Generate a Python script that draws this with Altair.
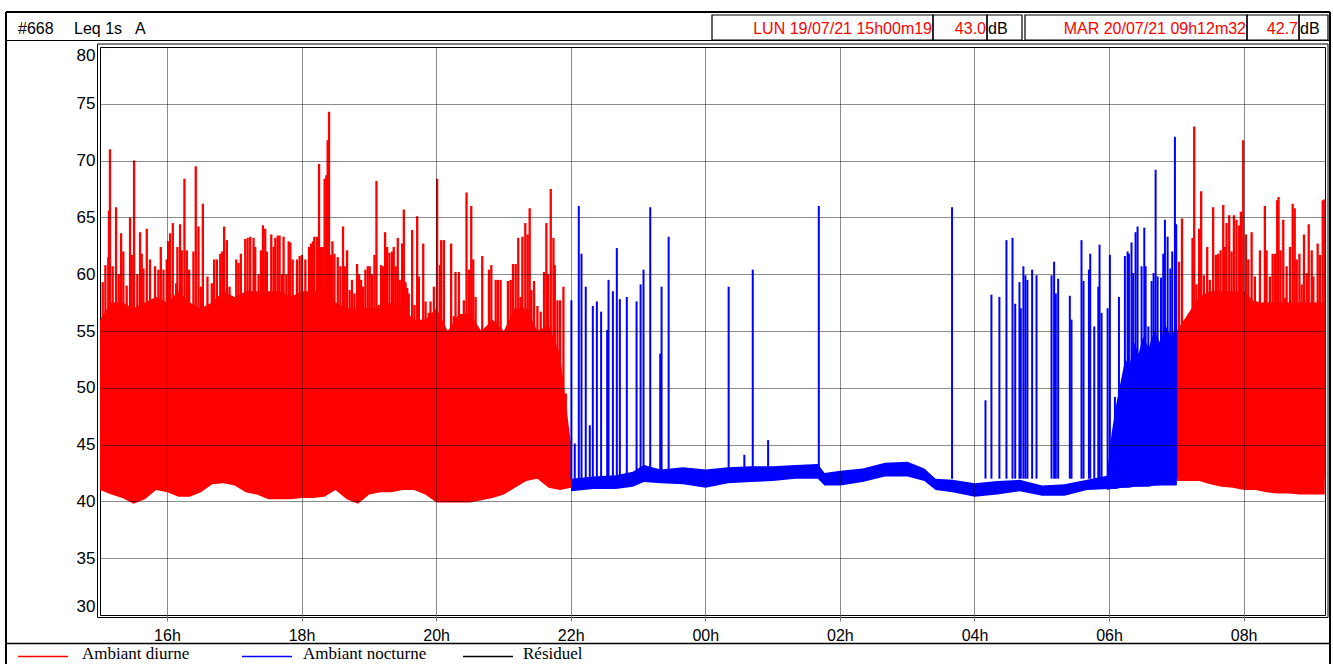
import altair as alt
import pandas as pd

# ---------------- data (minutes since LUN 19/07/21 15h00m19, dB(A)) ----------------
# Ambiant diurne, 15h-22h : dense envelope (lower edge / top of the solid part)
RED1_T = [0, 10, 20, 30, 40, 50, 60, 70, 80, 90, 100, 110, 120, 130, 140, 150, 160, 170, 180, 190,
          200, 210, 220, 230, 240, 250, 260, 270, 280, 290, 300, 310, 320, 330, 340, 350, 360, 370,
          380, 390, 400, 410, 420]
RED1_LO = [41.0, 40.6, 40.3, 39.8, 40.2, 41.0, 40.8, 40.4, 40.4, 40.8, 41.5, 41.6, 41.4, 40.8, 40.6,
           40.2, 40.2, 40.2, 40.3, 40.3, 40.4, 41.0, 40.2, 39.8, 40.6, 40.8, 40.8, 41.0, 41.0, 40.6,
           39.9, 39.9, 39.9, 39.9, 40.1, 40.3, 40.6, 41.2, 41.8, 42.0, 41.2, 41.0, 41.2]
RED1_HI = [56, 57.5, 57.5, 57, 57.5, 58, 57.5, 58.5, 57.5, 57, 57.5, 58.5, 58, 58.5, 58.5, 58.5, 58.5,
           58, 58.5, 58.5, 58.5, 57.5, 57, 57, 57, 57, 57.5, 57, 56, 56, 57, 55, 56.5, 56.5, 55, 56,
           55, 57, 57, 55, 55.5, 53, 45]

# Ambiant diurne, 07h-09h12
RED2_T = [960, 970, 980, 990, 1000, 1010, 1020, 1030, 1040, 1050, 1060, 1070, 1080, 1092]
RED2_LO = [41.8, 41.8, 41.8, 41.5, 41.3, 41.2, 41.0, 41.0, 40.8, 40.7, 40.7, 40.6, 40.6, 40.6]
RED2_HI = [55, 56.5, 58, 58.5, 58.5, 58.5, 58.5, 57.5, 57.5, 57.5, 57.5, 57.5, 57.5, 57.5]

# Ambiant nocturne, 22h-07h : background band
BLUE_T = [420, 440, 460, 475, 485, 500, 520, 540, 560, 580, 600, 620, 640, 646, 660, 680, 700, 720,
          735, 745, 760, 780, 800, 820, 840, 860, 880, 900, 920, 940, 960]
BLUE_LO = [40.9, 41.1, 41.1, 41.3, 41.7, 41.6, 41.5, 41.2, 41.6, 41.7, 41.8, 42.0, 42.0, 41.4, 41.4,
           41.7, 42.2, 42.2, 41.8, 41.0, 40.8, 40.4, 40.6, 40.9, 40.5, 40.5, 41.0, 41.1, 41.3, 41.4, 41.5]
BLUE_HI = [42.0, 42.2, 42.3, 42.6, 43.2, 42.8, 43.0, 42.8, 43.0, 43.1, 43.1, 43.2, 43.3, 42.5, 42.7,
           42.9, 43.4, 43.5, 42.9, 42.0, 41.9, 41.6, 41.8, 41.9, 41.4, 41.5, 41.9, 42.3, 42.6, 42.8, 42.8]
# dense early-morning part of the night
BLUED_T = [898, 902, 906, 910, 914, 918, 922, 926, 930, 935, 940, 945, 950, 955, 960]
BLUED_LO = [41.0, 41.1, 41.1, 41.2, 41.2, 41.2, 41.3, 41.3, 41.3, 41.3, 41.4, 41.4, 41.4, 41.4, 41.4]
BLUED_HI = [42.5, 46.0, 48.5, 50.5, 52.5, 52.0, 54.0, 53.0, 54.5, 53.5, 55.0, 54.0, 55.5, 54.5, 55.5]

# peaks
RED_PK_T = [2.4, 4.8, 7.4, 8.0, 8.9, 11.3, 14.3, 16.7, 18.8, 20.8, 23.8, 26.8, 28.3, 30.4, 33.3, 35.7,
            37.2, 38.7, 41.7, 44.6, 49.1, 52.1, 54.2, 56.6, 59.5, 61.0, 62.5, 64.9, 67.9, 69.0, 71.4,
            72.9, 75.3, 77.4, 79.5, 83.3, 85.4, 87.8, 89.9, 91.7, 95.8, 99.7, 101.8, 104.2, 107.2, 109.0,
            110.7, 113.1, 115.5, 117.6, 121.5, 123.5, 125.6, 129.5, 131.6, 133.9, 136.9, 138.4, 141.4,
            143.5, 145.3, 147.3, 148.8, 152.7, 154.8, 156.3, 158.4, 160.1, 162.2, 163.7, 166.1, 168.2,
            169.7, 171.8, 175.6, 178.0, 180.1, 183.1, 186.4, 188.1, 189.9, 191.1, 193.5, 195.3, 197.1,
            198.6, 200.3, 201.8, 203.0, 204.2, 206.0, 207.2, 209.0, 212.0, 214.3, 216.7, 218.2, 220.3,
            222.6, 224.7, 226.8, 229.2, 231.0, 232.8, 234.6, 236.6, 238.7, 240.5, 242.6, 244.7, 246.5,
            248.5, 250.6, 252.4, 254.2, 256.0, 258.1, 260.5, 261.9, 263.7, 265.5, 267.3, 269.4, 270.9,
            272.4, 273.9, 275.3, 278.3, 280.4, 282.8, 284.3, 288.2, 290.3, 293.2, 294.7, 297.7, 300.6,
            303.0, 304.2, 306.6, 313.1, 315.5, 317.0, 320.0, 324.4, 326.8, 328.9, 331.0, 332.8, 334.9,
            340.8, 346.8, 348.9, 352.8, 354.8, 357.2, 363.7, 366.1, 368.2, 370.6, 372.9, 375.0, 376.6,
            379.2, 381.3, 383.1, 384.6, 387.0, 390.0, 392.9, 395.9, 398.0, 399.5, 401.9, 404.3, 405.5,
            407.9, 410.2, 413.2, 415.3, 416.8,
            962.0, 964.7, 966.3, 968.7, 971.1, 974.1, 975.6, 977.6, 980.0, 981.8, 984.2, 987.2, 989.5,
            992.5, 994.9, 997.0, 999.1, 1001.5, 1003.0, 1004.4, 1006.8, 1008.9, 1011.0, 1013.3, 1015.7,
            1017.2, 1019.3, 1021.7, 1023.8, 1026.8, 1029.7, 1031.8, 1034.2, 1038.6, 1040.1, 1043.1,
            1045.5, 1047.6, 1049.6, 1050.8, 1052.6, 1055.0, 1056.5, 1058.0, 1061.0, 1063.4, 1065.2,
            1067.0, 1069.4, 1071.4, 1073.5, 1075.9, 1077.7, 1080.4, 1081.8, 1085.7, 1087.8, 1090.2, 1092.0]
RED_PK_DB = [59.3, 60.8, 61.5, 65.6, 71.0, 60.7, 65.9, 60.0, 63.6, 62.0, 59.0, 65.0, 61.7, 70.0, 60.0,
             63.7, 61.8, 60.5, 64.0, 61.3, 60.7, 60.4, 62.4, 60.4, 61.3, 62.9, 63.6, 64.5, 59.2, 62.4,
             64.4, 62.1, 68.4, 62.1, 60.4, 62.0, 69.5, 64.2, 58.9, 66.2, 59.8, 59.2, 61.3, 61.3, 61.8,
             62.0, 64.2, 63.0, 58.9, 58.0, 61.3, 61.0, 61.8, 63.1, 63.2, 63.3, 63.2, 62.4, 60.0, 62.1,
             64.3, 64.0, 62.0, 63.5, 62.4, 63.2, 63.4, 63.4, 60.0, 63.3, 60.0, 62.9, 62.8, 61.3, 61.3,
             61.6, 61.7, 61.3, 62.4, 62.7, 62.9, 63.3, 63.3, 69.7, 62.4, 62.4, 68.4, 68.7, 71.8, 74.3,
             61.7, 62.9, 61.8, 61.5, 60.7, 64.2, 60.7, 62.1, 58.6, 59.5, 58.3, 60.9, 60.0, 59.5, 58.9,
             60.4, 60.7, 60.7, 60.0, 61.7, 68.2, 57.3, 60.8, 60.7, 63.7, 62.4, 61.9, 62.0, 62.4, 60.7,
             63.2, 59.5, 62.7, 65.7, 59.3, 58.8, 58.3, 63.9, 57.3, 65.1, 59.8, 62.7, 57.6, 56.6, 57.6,
             58.9, 68.4, 60.8, 63.0, 63.0, 62.7, 56.3, 60.2, 60.2, 57.7, 67.2, 60.4, 66.0, 61.3, 58.0,
             61.6, 60.4, 60.8, 59.5, 59.5, 59.5, 59.4, 59.5, 60.9, 60.9, 63.2, 58.0, 63.3, 64.5, 63.5,
             65.8, 58.6, 59.4, 57.2, 56.7, 60.2, 64.5, 60.0, 67.5, 63.2, 60.8, 57.7, 57.7, 58.9, 49.5, 44.1,
             61.1, 64.9, 52.8, 55.1, 56.1, 63.2, 73.0, 59.1, 64.0, 67.3, 59.9, 62.4, 59.5, 65.9, 61.7,
             61.8, 62.1, 66.1, 62.4, 64.5, 65.2, 62.0, 65.2, 64.8, 64.3, 65.5, 71.8, 63.5, 61.3, 63.7,
             59.8, 57.6, 62.1, 66.0, 62.1, 59.8, 61.8, 61.8, 66.5, 66.8, 62.1, 64.8, 57.9, 60.7, 62.4,
             66.2, 65.8, 61.3, 61.8, 59.1, 63.5, 60.1, 64.4, 62.1, 59.8, 62.7, 61.7, 66.5, 66.6]

BLUE_PK_T = [420.3, 423.3, 426.9, 429.3, 433.1, 436.7, 439.4, 443.0, 446.8, 452.2, 453.4, 457.3, 460.8,
             463.5, 469.7, 478.4, 482.0, 484.6, 490.6, 499.5, 500.7, 507.0, 560.5, 574.5, 582.0, 595.7,
             640.9, 759.7, 789.5, 794.8, 801.9, 808.2, 813.6, 816.0, 819.8, 821.0, 823.3, 825.1, 826.9,
             831.1, 835.0, 848.4, 850.7, 852.2, 854.3, 864.7, 866.2, 875.1, 876.9, 881.7, 882.9, 886.5,
             890.1, 891.2, 893.0, 898.4, 900.4, 904.9, 908.5, 913.8, 916.2, 917.4, 919.7, 921.2, 923.3,
             925.1, 928.7, 931.1, 932.3, 934.7, 937.6, 939.4, 941.2, 943.0, 946.0, 948.0, 949.5, 951.9,
             954.3, 956.0, 958.4, 959.6]
BLUE_PK_DB = [57.7, 45.1, 66.0, 61.8, 58.9, 46.7, 57.2, 57.6, 56.7, 55.1, 59.5, 58.5, 62.3, 57.8, 58.0,
              57.6, 59.1, 60.4, 65.9, 53.0, 58.9, 63.3, 58.9, 44.1, 60.4, 45.4, 66.0, 65.9, 48.9, 58.2,
              58.0, 63.0, 63.2, 57.4, 59.3, 57.0, 60.7, 59.9, 59.5, 60.4, 59.9, 59.9, 61.1, 58.3, 59.6,
              58.1, 56.0, 63.0, 59.4, 60.4, 61.8, 55.4, 58.9, 62.6, 56.6, 57.0, 61.7, 49.2, 58.0, 61.6,
              62.0, 61.8, 62.8, 60.1, 63.7, 64.2, 60.7, 64.1, 60.7, 55.4, 59.4, 60.1, 69.2, 59.8, 59.7,
              61.8, 64.8, 63.3, 60.5, 62.0, 72.1, 64.4]

Y_TICKS = [30, 35, 40, 45, 50, 55, 60, 65, 70, 75, 80]
X_TICKS_H = [1, 3, 5, 7, 9, 11, 13, 15, 17]  # hours after 15h00 -> 16h ... 08h
START_H = 19 / 3600  # 15h00m19
END_H = 18 + 12 / 60 + 32 / 3600  # 09h12m32 next day

HEADER_LEFT = ["#668", "Leq 1s", "A"]
HEADER_START = ["LUN 19/07/21 15h00m19", "43.0", "dB"]
HEADER_END = ["MAR 20/07/21 09h12m32", "42.7", "dB"]
LEGEND = ["Ambiant diurne", "Ambiant nocturne", "Résiduel"]

RED = "#FF0000"
BLUE = "#0000FF"
SANS = "Liberation Sans, Arial, sans-serif"
SERIF = "Liberation Serif, Times New Roman, serif"

# ---------------- tables ----------------
def to_h(ts):
    return [START_H + t / 60 for t in ts]

red_body = pd.concat([
    pd.DataFrame({"h": to_h(RED1_T), "lo": RED1_LO, "hi": RED1_HI, "seg": "a"}),
    pd.DataFrame({"h": to_h(RED2_T), "lo": RED2_LO, "hi": RED2_HI, "seg": "b"}),
])
blue_band = pd.DataFrame({"h": to_h(BLUE_T), "lo": BLUE_LO, "hi": BLUE_HI})
blue_dense = pd.DataFrame({"h": to_h(BLUED_T), "lo": BLUED_LO, "hi": BLUED_HI})
red_pk = pd.DataFrame({"h": to_h(RED_PK_T), "db": RED_PK_DB})
blue_pk = pd.DataFrame({"h": to_h(BLUE_PK_T), "db": BLUE_PK_DB})
ONE = pd.DataFrame({"k": [0]})

W, H = 1225, 568
PL, PT = 100, 47

xs = alt.Scale(domain=[START_H, END_H], nice=False, zero=False)
ys = alt.Scale(domain=[30, 80], nice=False, zero=False)
xaxis = alt.Axis(values=X_TICKS_H, title=None, grid=True, gridColor="#000000", gridOpacity=0.45,
                 gridWidth=1, ticks=True, tickSize=6, tickColor="#777777", domain=False,
                 labelFont=SANS, labelFontSize=16, labelColor="#000000", labelPadding=6, zindex=1,
                 labelExpr="(((datum.value + 15) % 24) < 10 ? '0' : '') + ((datum.value + 15) % 24) + 'h'")
yaxis = alt.Axis(values=Y_TICKS, title=None, grid=True, gridColor="#000000", gridOpacity=0.45,
                 gridWidth=1, ticks=False, domain=False, labelFont=SANS, labelFontSize=17,
                 labelColor="#000000", labelPadding=5, labelFlush=True, zindex=1)

X = alt.X("h:Q", scale=xs, axis=xaxis)

layers = []
layers.append(alt.Chart(blue_band).mark_area(color=BLUE, clip=True).encode(
    x=X, y=alt.Y("lo:Q", scale=ys, axis=yaxis), y2="hi:Q"))
layers.append(alt.Chart(red_body).mark_area(color=RED, clip=True).encode(
    x=X, y=alt.Y("lo:Q", scale=ys, axis=yaxis), y2="hi:Q", detail="seg:N"))
layers.append(alt.Chart(blue_dense).mark_area(color=BLUE, clip=True).encode(
    x=X, y=alt.Y("lo:Q", scale=ys, axis=yaxis), y2="hi:Q"))
layers.append(alt.Chart(red_pk).mark_rule(color=RED, strokeWidth=2.3, clip=True).encode(
    x=X, y=alt.Y("db:Q", scale=ys, axis=yaxis), y2=alt.datum(42)))
layers.append(alt.Chart(blue_pk).mark_rule(color=BLUE, strokeWidth=2, clip=True).encode(
    x=X, y=alt.Y("db:Q", scale=ys, axis=yaxis), y2=alt.datum(42)))


# ---------------- decorations (frame, header, legend) ----------------
def hline(x1, x2, y, w=1.0, color="#000000"):
    return alt.Chart(ONE).mark_rule(color=color, strokeWidth=w).encode(
        x=alt.value(x1 - PL), x2=alt.value(x2 - PL), y=alt.value(y - PT))


def vline(x, y1, y2, w=1.0, color="#000000"):
    return alt.Chart(ONE).mark_rule(color=color, strokeWidth=w).encode(
        x=alt.value(x - PL), y=alt.value(y1 - PT), y2=alt.value(y2 - PT))


def box(x1, x2, y1, y2, w=1.2):
    return alt.Chart(ONE).mark_rect(fillOpacity=0, stroke="#000000", strokeWidth=w).encode(
        x=alt.value(x1 - PL), x2=alt.value(x2 - PL), y=alt.value(y1 - PT), y2=alt.value(y2 - PT))


def label(txt, x, y, align="left", color="#000000", font=SANS, size=16, baseline="middle"):
    return alt.Chart(ONE).mark_text(align=align, baseline=baseline, font=font, fontSize=size,
                                    color=color).encode(
        x=alt.value(x - PL), y=alt.value(y - PT), text=alt.value(txt))


deco = [
    # outer frame
    vline(6, 12, 664, 2), vline(1330, 12, 664, 2), hline(6, 1330, 12, 2),
    hline(6, 1330, 40.5, 1.2), hline(6, 1330, 643.5, 1.5),
    # double plot frame
    box(97.5, 1328, 44, 617.5, 1),
    # header boxes
    box(712, 933, 15, 40), box(933, 987, 15, 40), box(987, 1022, 15, 40),
    box(1025, 1247, 15, 40), box(1247, 1299, 15, 40), box(1299, 1328, 15, 40),
    label(HEADER_LEFT[0], 18, 29), label(HEADER_LEFT[1], 74, 29), label(HEADER_LEFT[2], 135, 29),
    label(HEADER_START[0], 932, 29, "right", RED), label(HEADER_START[1], 986, 29, "right", RED),
    label(HEADER_START[2], 988, 29),
    label(HEADER_END[0], 1246, 29, "right", RED), label(HEADER_END[1], 1298, 29, "right", RED),
    label(HEADER_END[2], 1300, 29),
    # legend
    hline(18, 68, 656.5, 1.5, RED), hline(242, 292, 656.5, 1.5, BLUE), hline(463, 513, 656.5, 1.5),
    label(LEGEND[0], 82, 659, font=SERIF, size=17, baseline="alphabetic"),
    label(LEGEND[1], 303, 659, font=SERIF, size=17, baseline="alphabetic"),
    label(LEGEND[2], 523, 659, font=SERIF, size=17, baseline="alphabetic"),
]

chart = alt.layer(*layers, *deco).properties(
    width=W, height=H, autosize="none",
    padding={"left": PL, "top": PT, "right": 1333 - PL - W, "bottom": 664 - PT - H},
    background="#FFFFFF",
).configure_view(stroke="#000000", strokeWidth=1)

chart.save("out.html", embed_options={"renderer": "svg", "actions": False})
